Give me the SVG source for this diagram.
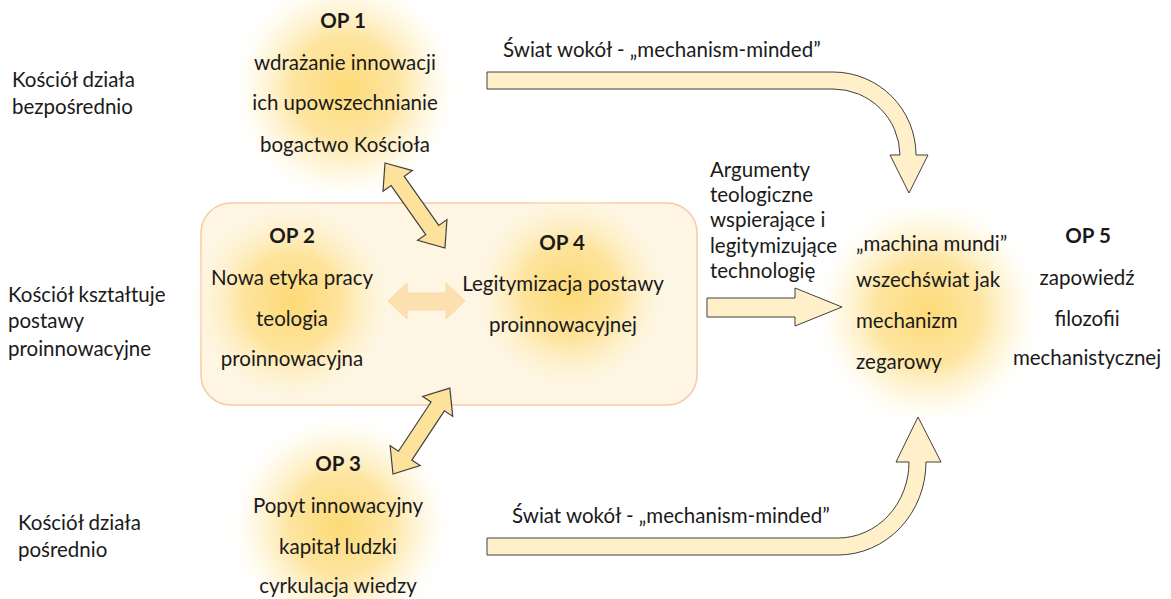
<svg xmlns="http://www.w3.org/2000/svg" width="1171" height="599" viewBox="0 0 1171 599">
  <style>
    text { font-family: Lato, "Open Sans", "Liberation Sans", sans-serif; font-size: 20.5px; fill: #1a1a1a; }
    .c { text-anchor: middle; }
    .b { font-weight: bold; }
    .arr { fill: #fff0c9; stroke: #404040; stroke-width: 1; stroke-linejoin: miter; }
    .darr { fill: #fde29c; stroke: #404040; stroke-width: 1.2; }
  </style>
  <defs>
    <radialGradient id="glow">
      <stop offset="0" stop-color="#fdd86f" stop-opacity="0.95"/>
      <stop offset="0.45" stop-color="#fddf8a" stop-opacity="0.8"/>
      <stop offset="0.75" stop-color="#fef0c4" stop-opacity="0.45"/>
      <stop offset="1" stop-color="#ffffff" stop-opacity="0"/>
    </radialGradient>
  </defs>
  <rect width="1171" height="599" fill="#ffffff"/>

  <g id="group-box">
    <rect x="201" y="203" width="496" height="202" rx="30" fill="#fef5e3" stroke="#f8c9a6" stroke-width="1.5"/>
  </g>

  <g id="labels-left">
    <text x="12" y="87">Kościół działa</text>
    <text x="12" y="114">bezpośrednio</text>
    <text x="8" y="302">Kościół kształtuje</text>
    <text x="8" y="328">postawy</text>
    <text x="8" y="356">proinnowacyjne</text>
    <text x="18" y="530">Kościół działa</text>
    <text x="18" y="557">pośrednio</text>
  </g>

  <g id="op1">
    <circle cx="345" cy="88" r="118" fill="url(#glow)"/>
    <text class="c b" x="343" y="28">OP 1</text>
    <text class="c" x="345" y="70">wdrażanie innowacji</text>
    <text class="c" x="345" y="110">ich upowszechnianie</text>
    <text class="c" x="345" y="152">bogactwo Kościoła</text>
  </g>

  <g id="op2">
    <circle cx="292" cy="302" r="108" fill="url(#glow)"/>
    <text class="c b" x="292" y="243">OP 2</text>
    <text class="c" x="292" y="285">Nowa etyka pracy</text>
    <text class="c" x="292" y="326">teologia</text>
    <text class="c" x="292" y="366">proinnowacyjna</text>
  </g>

  <g id="op4">
    <circle cx="570" cy="292" r="105" fill="url(#glow)"/>
    <text class="c b" x="562" y="250">OP 4</text>
    <text class="c" x="563" y="291">Legitymizacja postawy</text>
    <text class="c" x="563" y="332">proinnowacyjnej</text>
  </g>

  <g id="op3">
    <circle cx="340" cy="525" r="115" fill="url(#glow)"/>
    <text class="c b" x="338" y="471">OP 3</text>
    <text class="c" x="338" y="513">Popyt innowacyjny</text>
    <text class="c" x="338" y="554">kapitał ludzki</text>
    <text class="c" x="338" y="593">cyrkulacja wiedzy</text>
  </g>

  <g id="machina">
    <circle cx="928" cy="312" r="118" fill="url(#glow)"/>
    <text x="856" y="251">„machina mundi”</text>
    <text x="856" y="287">wszechświat jak</text>
    <text x="856" y="328">mechanizm</text>
    <text x="856" y="369">zegarowy</text>
  </g>

  <g id="op5">
    <text class="c b" x="1088" y="243">OP 5</text>
    <text class="c" x="1087" y="285">zapowiedź</text>
    <text class="c" x="1087" y="326">filozofii</text>
    <text class="c" x="1087" y="365">mechanistycznej</text>
  </g>

  <g id="argumenty">
    <text x="710" y="177">Argumenty</text>
    <text x="710" y="202">teologiczne</text>
    <text x="710" y="227">wspierające i</text>
    <text x="710" y="253">legitymizujące</text>
    <text x="710" y="278">technologię</text>
  </g>

  <g id="connectors">
    <path class="arr" d="M487,72 L833,72 A83,83 0 0 1 916,155 L928,155 L909,193 L890,155 L900,155 A67,67 0 0 0 833,89 L487,89 Z"/>
    <text x="503" y="57">Świat wokół - „mechanism-minded”</text>
    <path class="arr" d="M487,555 L838,555 A88,93 0 0 0 926,462 L941,462 L918,417 L896,462 L909,462 A71,76 0 0 1 838,538 L487,538 Z"/>
    <text x="512" y="523">Świat wokół - „mechanism-minded”</text>
    <path class="arr" d="M707,298 L795,298 L795,288 L842,307 L795,326 L795,317 L707,317 Z"/>
    <path fill="#fde0b0" stroke="#fbd9a4" stroke-width="1" d="M388,301 L407,283 L407,293 L446,293 L446,283 L465,301 L446,319 L446,310 L407,310 L407,319 Z"/>
    <path class="darr" transform="translate(385,163) rotate(54.8)" d="M0,0 L22,-18 L22,-8 L82,-8 L82,-18 L104,0 L82,18 L82,8 L22,8 L22,18 Z"/>
    <path class="darr" transform="translate(393,474) rotate(-56.5)" d="M0,0 L22,-18 L22,-8 L81,-8 L81,-18 L103,0 L81,18 L81,8 L22,8 L22,18 Z"/>
  </g>
</svg>
